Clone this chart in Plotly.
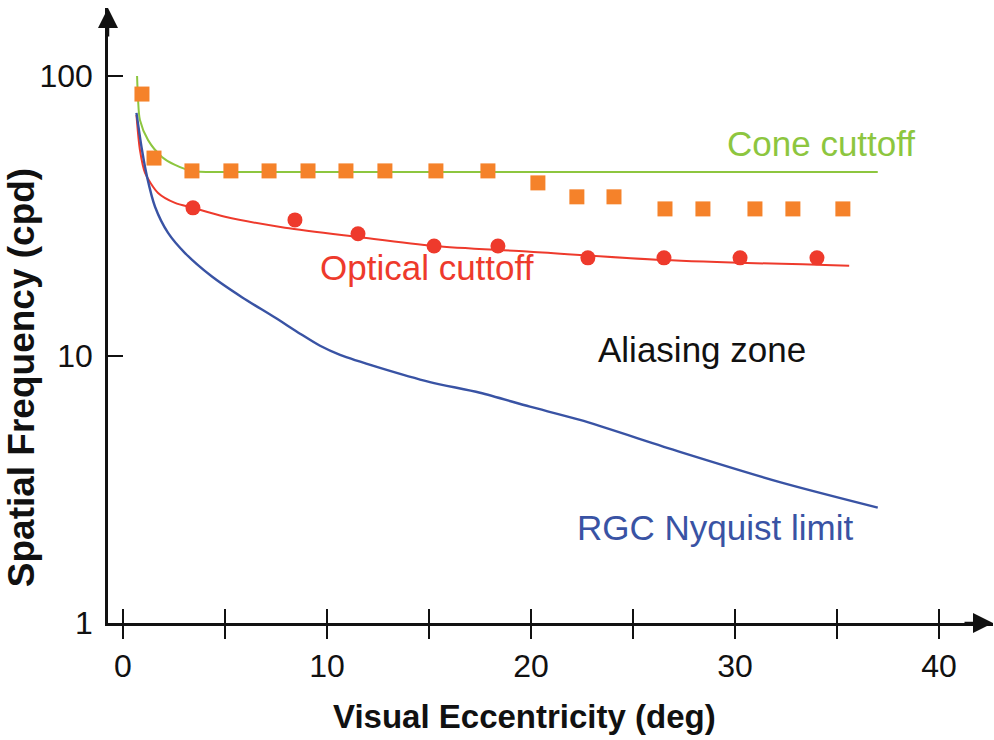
import plotly.graph_objects as go

# eccentricity (deg) / spatial frequency (cpd)
cone_x = [0.69, 0.74, 0.83, 1.23, 1.91, 2.55, 3.38, 5.0, 37.0]
cone_y = [100, 82, 69.6, 59, 51.4, 48.1, 45.8, 45.4, 45.4]

optical_x = [0.66, 0.83, 1.08, 1.72, 2.55, 3.43, 5.0, 7.94, 11.5, 15.25, 19.8, 26.5, 35.6]
optical_y = [72.6, 54.5, 45.1, 38.2, 35.2, 33.8, 31.4, 28.7, 26.6, 24.7, 23.6, 22.0, 21.0]

rgc_x = [0.66, 0.93, 1.18, 1.57, 2.21, 3.04, 4.36, 5.83, 7.45, 8.68, 9.66, 10.64,
         12.6, 15.05, 17.5, 19.95, 22.4, 27.3, 32.2, 37.0]
rgc_y = [73.8, 54.5, 43.6, 34.1, 27.5, 23.3, 19.2, 16.2, 13.7, 12.0, 10.86, 10.08,
         9.06, 8.06, 7.38, 6.58, 5.9, 4.54, 3.54, 2.87]

square_x = [0.93, 1.52, 3.38, 5.29, 7.16, 9.07, 10.93, 12.84, 15.34, 17.89,
            20.34, 22.25, 24.07, 26.57, 28.43, 30.98, 32.84, 35.29]
square_y = [86.2, 50.9, 45.8, 45.8, 45.8, 45.8, 45.8, 45.8, 45.8, 45.8,
            41.5, 37.0, 37.0, 33.5, 33.5, 33.5, 33.5, 33.5]

circle_x = [3.43, 8.43, 11.52, 15.25, 18.38, 22.79, 26.52, 30.25, 34.02]
circle_y = [33.8, 30.6, 27.3, 24.7, 24.7, 22.4, 22.4, 22.4, 22.4]

x_ticks = [0, 5, 10, 15, 20, 25, 30, 35, 40]
x_labels = ["0", "", "10", "", "20", "", "30", "", "40"]
y_ticks = [1.11, 10, 100]
y_labels = ["1", "10", "100"]

GREEN = "#8DC63F"
ORANGE = "#F5822A"
RED = "#EE3A2C"
BLUE = "#3953A4"
INK = "#111111"
FONT = "Liberation Sans, Arial, sans-serif"

fig = go.Figure()

fig.add_trace(go.Scatter(x=cone_x, y=cone_y, mode="lines",
                         line=dict(color=GREEN, width=2, shape="spline", smoothing=0.8)))
fig.add_trace(go.Scatter(x=optical_x, y=optical_y, mode="lines",
                         line=dict(color=RED, width=2, shape="spline", smoothing=0.8)))
fig.add_trace(go.Scatter(x=rgc_x, y=rgc_y, mode="lines",
                         line=dict(color=BLUE, width=2.4, shape="spline", smoothing=0.8)))
fig.add_trace(go.Scatter(x=circle_x, y=circle_y, mode="markers",
                         marker=dict(symbol="circle", size=15, color=RED)))
# squares sit on the overlay axis, which only adds the inner half of the x ticks
fig.add_trace(go.Scatter(x=square_x, y=square_y, mode="markers", xaxis="x2",
                         marker=dict(symbol="square", size=15, color=ORANGE)))

fig.update_layout(
    width=994, height=740,
    margin=dict(l=108, r=1, t=8, b=117),
    paper_bgcolor="white", plot_bgcolor="white",
    showlegend=False,
    font=dict(family=FONT, color=INK),
    xaxis=dict(
        range=[-0.735, 42.65], showgrid=False, zeroline=False,
        showline=True, linecolor=INK, linewidth=2.5,
        tickmode="array", tickvals=x_ticks, ticktext=x_labels,
        ticks="outside", ticklen=13, tickwidth=2, tickcolor=INK,
        tickfont=dict(size=32, color=INK),
    ),
    xaxis2=dict(
        matches="x", overlaying="x", anchor="y", side="bottom",
        showgrid=False, zeroline=False, showline=False, showticklabels=False,
        tickmode="array", tickvals=x_ticks,
        ticks="inside", ticklen=14, tickwidth=2, tickcolor=INK,
    ),
    yaxis=dict(
        type="log", range=[0.0453, 2.243], showgrid=False, zeroline=False,
        showline=True, linecolor=INK, linewidth=2.5,
        tickmode="array", tickvals=y_ticks, ticktext=y_labels,
        ticks="inside", ticklen=15, tickwidth=2, tickcolor=INK,
        tickfont=dict(size=32, color=INK), ticklabelstandoff=6,
    ),
)

# axis arrowheads
fig.add_annotation(xref="paper", yref="paper", x=1, y=0, ax=-30, ay=0,
                   text="", showarrow=True, arrowhead=2, arrowsize=1.6,
                   arrowwidth=2.5, arrowcolor=INK)
fig.add_annotation(xref="paper", yref="paper", x=0, y=1, ax=0, ay=30,
                   text="", showarrow=True, arrowhead=2, arrowsize=1.6,
                   arrowwidth=2.5, arrowcolor=INK)

# axis titles
fig.add_annotation(xref="paper", yref="paper", x=0.471, y=0, yshift=-93,
                   yanchor="middle", text="Visual Eccentricity (deg)", showarrow=False,
                   font=dict(size=33, weight="bold", color=INK))
fig.add_annotation(xref="paper", yref="paper", x=0, xshift=-87, y=0.398,
                   xanchor="center", yanchor="middle",
                   text="Spatial Frequency (cpd)", textangle=-90, showarrow=False,
                   font=dict(size=37, weight="bold", color=INK))

# curve labels
fig.add_annotation(x=34.2, y=1.760, text="Cone cuttoff", showarrow=False,
                   font=dict(size=35, color=GREEN))
fig.add_annotation(x=14.9, y=1.316, text="Optical cuttoff", showarrow=False,
                   font=dict(size=35, color=RED))
fig.add_annotation(x=28.4, y=1.021, text="Aliasing zone", showarrow=False,
                   font=dict(size=35, color=INK))
fig.add_annotation(x=29.0, y=0.386, text="RGC Nyquist limit", showarrow=False,
                   font=dict(size=35, color=BLUE))

fig.write_html("out.html", config={"displayModeBar": False},
               post_script="document.body.style.margin = '0';")
